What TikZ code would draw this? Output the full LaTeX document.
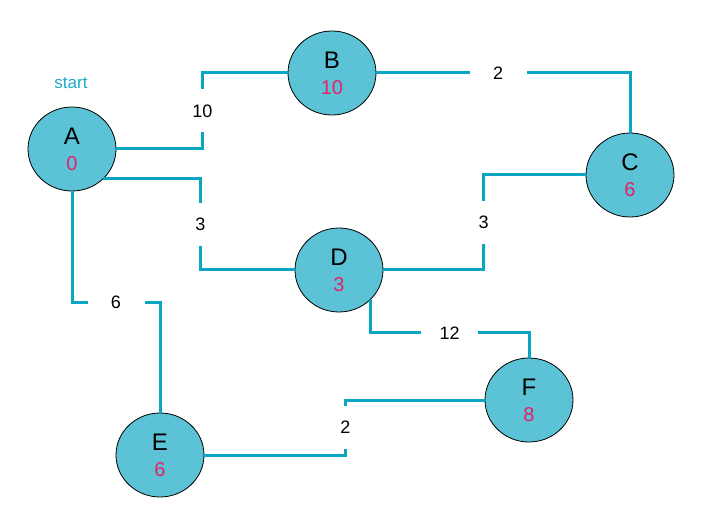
\documentclass[tikz,border=0pt]{standalone}
\usepackage{fontspec}
\setmainfont{Liberation Sans}
\usetikzlibrary{shapes.geometric}

\definecolor{roadblue}{RGB}{10,166,196}
\definecolor{nodefill}{RGB}{92,195,214}
\definecolor{distred}{RGB}{228,32,104}
\definecolor{startblue}{RGB}{26,170,200}

\tikzset{
  vertex/.style={ellipse,draw=black,line width=0.8pt,fill=nodefill,minimum width=88pt,minimum height=84pt,inner sep=0pt,align=center,font=\fontsize{24}{26}\selectfont},
  road/.style={draw=roadblue,line width=3pt},
  cost/.style={fill=white,minimum width=57pt,minimum height=43pt,inner sep=0pt,font=\fontsize{18}{18}\selectfont},
}
\newcommand{\dist}[1]{{\fontsize{20}{26}\selectfont\color{distred}#1}}

\begin{document}
\begin{tikzpicture}[x=1pt,y=-1pt]
\useasboundingbox (0,0) rectangle (716,532);
% cities with their distance from A
\node[vertex] (A) at (72,149) {A\\\dist{0}};
\node[vertex] (B) at (332,73) {B\\\dist{10}};
\node[vertex] (C) at (630,175) {C\\\dist{6}};
\node[vertex] (D) at (339,270) {D\\\dist{3}};
\node[vertex] (E) at (160,455) {E\\\dist{6}};
\node[vertex] (F) at (529,400) {F\\\dist{8}};
\node[text=startblue,font=\fontsize{17}{17}\selectfont] (start) at (71,83) {start};
% roads
\draw[road] (A.east) -- ++(86,0) |- node[cost,pos=0.25]{10} (B.west);
\draw[road] (A.south east) -- ++(97,0) |- node[cost,pos=0.25]{3} (D.west);
\draw[road] (A.south) -- ++(0,111) -| node[cost,pos=0.25]{6} (E.north);
\draw[road] (B.east) -| node[cost,pos=0.24]{2} (C.north);
\draw[road] (C.west) -- ++(-102,0) |- node[cost,pos=0.25]{3} (D.east);
\draw[road] (D.south east) -- ++(0,33) -| node[cost,pos=0.25]{12} (F.north);
\draw[road] (E.east) -- ++(141,0) |- node[cost,pos=0.25]{2} (F.west);
\end{tikzpicture}
\end{document}
